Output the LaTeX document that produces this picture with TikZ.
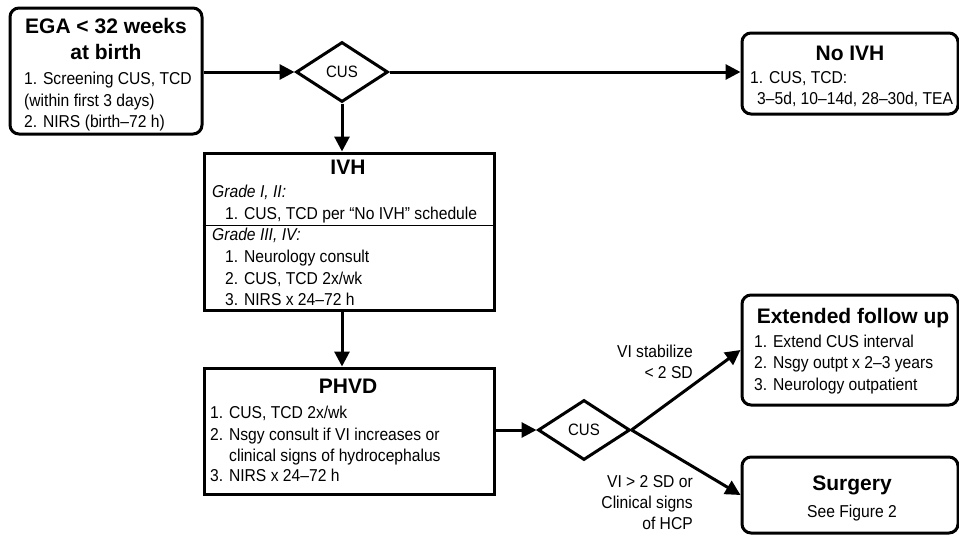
\documentclass[tikz,border=0pt]{standalone}
\usepackage{fontspec}
\setmainfont{Liberation Sans}
\newfontfamily\bodyfont[FakeStretch=0.91]{Liberation Sans}
\usetikzlibrary{shapes.geometric,arrows.meta}

\begin{document}
\begin{tikzpicture}[x=1pt,y=-1pt,
  itm/.style={inner sep=0pt,anchor=base west,font=\bodyfont\fontsize{17.2}{20}\selectfont},
  lbl/.style={inner sep=0pt,anchor=base east,font=\bodyfont\fontsize{17.2}{20}\selectfont},
  ttl/.style={inner sep=0pt,anchor=base,font=\bfseries\fontsize{21}{25}\selectfont},
  rbox/.style={draw,line width=3pt,rounded corners=9pt},
  sbox/.style={draw,line width=3pt},
  cus/.style={draw,diamond,line width=3pt,inner sep=0pt,minimum width=92pt,minimum height=60pt,font=\bodyfont\fontsize{16.5}{19}\selectfont},
  flow/.style={line width=3pt,-{Triangle[length=15pt,width=15pt]}}]
\useasboundingbox (0,0) rectangle (959,536);

\node[rbox,minimum width=192pt,minimum height=126pt] (ega) at (106,71) {};
\node[rbox,minimum width=216pt,minimum height=81pt] (noivh) at (850,73.5) {};
\node[sbox,minimum width=290pt,minimum height=157pt] (ivh) at (349,231.5) {};
\node[sbox,minimum width=290pt,minimum height=126pt] (phvd) at (349,431) {};
\node[rbox,minimum width=216pt,minimum height=110pt] (ext) at (850,350) {};
\node[rbox,minimum width=216pt,minimum height=76pt] (surg) at (850,495) {};
\node[cus] (cus1) at (342,72) {CUS};
\node[cus] (cus2) at (584,430) {CUS};

\node[ttl] (egat1) at (106,33) {EGA < 32 weeks};
\node[ttl] (egat2) at (106,59) {at birth};
\node[itm] (ega1) at (24,84.5) {1. Screening CUS, TCD};
\node[itm] (ega2) at (24,106) {(within first 3 days)};
\node[itm] (ega3) at (24,127.5) {2. NIRS (birth–72 h)};

\node[ttl] (noivht) at (850,60) {No IVH};
\node[itm] (noivh1) at (750,83) {1. CUS, TCD:};
\node[itm] (noivh2) at (757,104) {3–5d, 10–14d, 28–30d, TEA};

\node[ttl] (ivht) at (348,174) {IVH};
\node[itm] (ivhg1) at (212,197) {\itshape Grade I, II:};
\node[itm] (ivh1) at (225,219) {1. CUS, TCD per “No IVH” schedule};
\draw[line width=0.8pt] (ivh.west |- 0,225.7) -- (ivh.east |- 0,225.7);
\node[itm] (ivhg2) at (212,240.5) {\itshape Grade III, IV:};
\node[itm] (ivh2) at (225,262) {1. Neurology consult};
\node[itm] (ivh3) at (225,284) {2. CUS, TCD 2x/wk};
\node[itm] (ivh4) at (225,305.5) {3. NIRS x 24–72 h};

\node[ttl] (phvdt) at (348,393) {PHVD};
\node[itm] (phvd1) at (210,418) {1. CUS, TCD 2x/wk};
\node[itm] (phvd2) at (210,440) {2. Nsgy consult if VI increases or};
\node[itm] (phvd3) at (229,461) {clinical signs of hydrocephalus};
\node[itm] (phvd4) at (210,481) {3. NIRS x 24–72 h};

\node[ttl] (extt) at (853,323) {Extended follow up};
\node[itm] (ext1) at (754,347) {1. Extend CUS interval};
\node[itm] (ext2) at (754,368.5) {2. Nsgy outpt x 2–3 years};
\node[itm] (ext3) at (754,390) {3. Neurology outpatient};

\node[ttl] (surgt) at (852,490) {Surgery};
\node[itm,anchor=base] (surg1) at (852,517) {See Figure 2};

\node[lbl] (stab1) at (693,357) {VI stabilize};
\node[lbl] (stab2) at (693,378) {< 2 SD};
\node[lbl] (inc1) at (693,487) {VI > 2 SD or};
\node[lbl] (inc2) at (693,508) {Clinical signs};
\node[lbl] (inc3) at (693,529) {of HCP};

\draw[flow] (ega.east |- cus1.west) -- (cus1.west);
\draw[flow] (cus1.east) -- (cus1.east -| noivh.west);
\draw[flow] (cus1.south) -- (cus1.south |- ivh.north);
\draw[flow] (cus1.south |- ivh.south) -- (cus1.south |- phvd.north);
\draw[flow] (phvd.east |- cus2.west) -- (cus2.west);
\draw[flow] (cus2.east) -- (ext.west);
\draw[flow] (cus2.east) -- (surg.west);
\end{tikzpicture}
\end{document}
